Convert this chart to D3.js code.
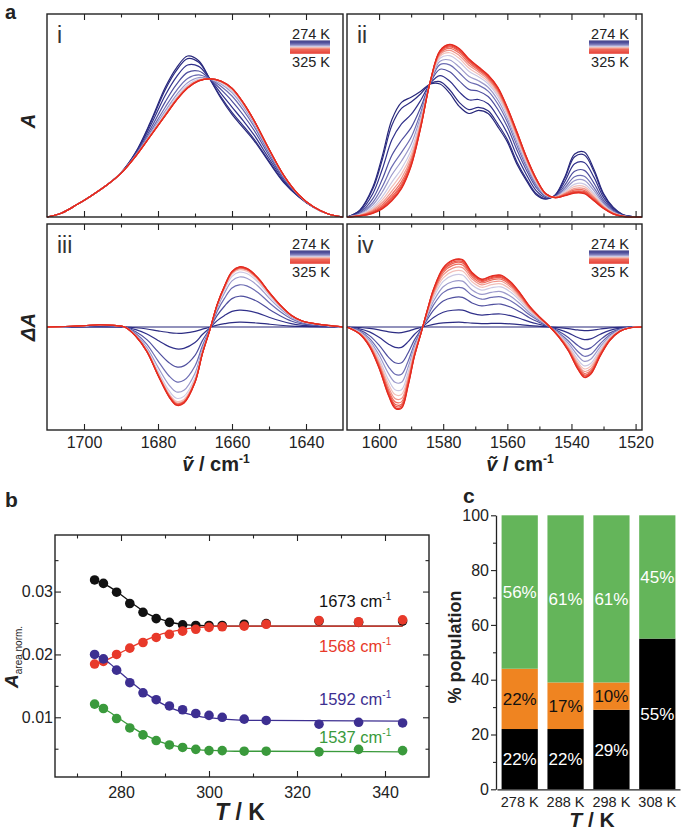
<!DOCTYPE html>
<html><head><meta charset="utf-8">
<script src="https://cdn.jsdelivr.net/npm/d3@7"></script>
<style>body{margin:0;background:#fff}svg{display:block}</style>
</head><body><svg id="chart" width="685" height="831"></svg>
<script>
// ---------------- DATA ----------------
const temps = [274,276,279,282,285,288,291,294,297,300,303,308,313,325];
const wAmideI  = [0,0.08,0.28,0.51,0.70,0.83,0.91,0.95,0.97,0.98,0.985,0.99,0.995,1.0];
const wAmideII = [0,0.07,0.25,0.44,0.58,0.68,0.77,0.83,0.88,0.92,0.95,0.97,0.99,1.0];

// panel i: absorbance at 274 K and 325 K
const nuI      = [1710,1706,1702,1698,1694,1690,1686,1682,1678,1675,1672,1669,1666,1663,1660,1657,1654,1650,1646,1642,1638,1634,1630];
const absI_274 = [0,0.02,0.06,0.105,0.155,0.218,0.32,0.47,0.64,0.735,0.793,0.77,0.68,0.585,0.505,0.44,0.375,0.27,0.17,0.10,0.048,0.015,0];
const absI_325 = [0,0.02,0.06,0.105,0.155,0.215,0.30,0.40,0.50,0.575,0.635,0.67,0.68,0.67,0.635,0.565,0.475,0.335,0.205,0.11,0.05,0.015,0];

// panel ii
const nuII      = [1610,1606,1602,1599,1596,1593,1590,1587,1584,1581,1578,1575,1572,1569,1566,1563,1560,1557,1554,1551,1548,1545,1542,1539,1536,1533,1530,1527,1524,1521,1518];
const absII_274 = [0,0.034,0.145,0.30,0.48,0.565,0.59,0.62,0.655,0.655,0.61,0.545,0.51,0.525,0.51,0.445,0.37,0.26,0.178,0.11,0.088,0.11,0.20,0.31,0.32,0.235,0.115,0.048,0.012,0.002,0];
const absII_325 = [0,0.005,0.018,0.04,0.08,0.14,0.25,0.44,0.67,0.82,0.85,0.83,0.78,0.74,0.70,0.64,0.54,0.42,0.295,0.19,0.115,0.095,0.105,0.118,0.115,0.08,0.042,0.015,0.003,0,0];

// panel iii: difference spectrum 325 K − 274 K
const nuIII   = [1710,1705,1700,1696,1692,1689,1686,1683,1680,1677,1675,1673,1670,1668,1666,1664,1662,1660,1658,1656,1653,1650,1647,1644,1641,1638,1634,1630];
const dAIII   = [0,0.005,0.013,0.022,0.016,0,-0.09,-0.24,-0.47,-0.68,-0.76,-0.74,-0.54,-0.26,-0.03,0.22,0.40,0.54,0.585,0.57,0.48,0.34,0.215,0.115,0.058,0.035,0.015,0];

// panel iv
const nuIV  = [1610,1606,1603,1600,1597,1595,1593,1591,1589,1587,1585,1583,1580,1577,1574,1571,1568,1565,1562,1559,1556,1553,1550,1547,1544,1541,1538,1536,1534,1531,1528,1525,1522,1518];
const dAIV  = [0,-0.07,-0.19,-0.40,-0.67,-0.79,-0.79,-0.58,-0.29,-0.07,0.16,0.37,0.575,0.65,0.655,0.53,0.465,0.495,0.505,0.44,0.33,0.20,0.10,0.01,-0.095,-0.23,-0.41,-0.49,-0.46,-0.28,-0.13,-0.045,-0.01,0];

const ticksI_major = [1700,1680,1660,1640];
const ticksI_minor = [1690,1670,1650];
const ticksII_major = [1600,1580,1560,1540,1520];
const ticksII_minor = [1590,1570,1550,1530];

// panel b
const tempsB = [274,276,279,282,285,288,291,294,297,300,303,308,313,325,334,344];
const b1673 = [0.03185,0.0313,0.0299,0.0281,0.0267,0.0257,0.0251,0.0247,0.0246,0.0246,0.0246,0.0248,0.0249,0.0253,0.0251,0.0253];
const b1568 = [0.01847,0.0189,0.0200,0.0210,0.0219,0.0227,0.0232,0.0237,0.0240,0.0243,0.0244,0.0245,0.0248,0.0254,0.0252,0.0255];
const b1592 = [0.0200,0.0193,0.0175,0.0155,0.0139,0.0128,0.0118,0.0112,0.0106,0.0103,0.0100,0.0097,0.0095,0.0089,0.0092,0.0091];
const b1537 = [0.0121,0.0114,0.0098,0.0083,0.0072,0.0063,0.0056,0.0052,0.0049,0.0047,0.0047,0.0046,0.0046,0.0045,0.0049,0.0047];
const fitT    = [274,277,280,283,286,289,292,295,298,302,306,312,344];
const fit1673 = [0.0318,0.0309,0.0295,0.0279,0.0265,0.0256,0.0250,0.0247,0.0246,0.0245,0.0245,0.0245,0.0245];
const fit1568 = [0.0183,0.0192,0.0203,0.0214,0.0224,0.0232,0.0237,0.0241,0.0243,0.0245,0.0245,0.0245,0.0245];
const fit1592 = [0.0200,0.0188,0.0170,0.0152,0.0136,0.0123,0.0113,0.0106,0.0101,0.0098,0.0096,0.0095,0.0094];
const fit1537 = [0.0121,0.0110,0.0096,0.0082,0.0070,0.0061,0.0055,0.0051,0.0048,0.0047,0.0046,0.0046,0.0045];
const bandLabels = ["1673","1568","1592","1537"];
const ticksB_x = [280,300,320,340], ticksB_xMinor = [270,290,310,330];
const ticksB_y = [0.01,0.02,0.03], ticksB_yMinor = [0.005,0.015,0.025,0.035];

// panel c
const popCats   = ["278 K","288 K","298 K","308 K"];
const popBlack  = [22,22,29,55];
const popOrange = [22,17,10,0];
const popGreen  = [56,61,61,45];
const ticksC = [0,20,40,60,80,100], ticksCMinor = [10,30,50,70,90];

// ---------------- DRAWING ----------------
const FONT = '"Liberation Sans", Arial, Helvetica, sans-serif';
const INK = "#222";
const svg = d3.select("#chart");

const colorOf = d3.scaleLinear().domain([0,2,4,6,7,9,13])
  .range(["#27277a","#30308a","#6c6cb2","#cbc8e3","#f2bfb9","#ee6c5d","#e42a1f"]);

function styleAxis(a, fs) {
  a.select(".domain").remove();
  a.selectAll("line").attr("stroke", INK).attr("stroke-width", 1.1);
  a.selectAll("text").attr("font-family", FONT).attr("font-size", fs || 16).attr("fill", INK);
}

function frameBox(x, y) {
  const [x0,x1] = x.range(), [yb,yt] = y.range();
  svg.append("rect").attr("x",x0).attr("y",yt).attr("width",x1-x0).attr("height",yb-yt)
    .attr("fill","none").attr("stroke",INK).attr("stroke-width",1.4);
}

function hTicks(x, ty, which, vals, size, labels, pad) {
  const fn = which === "top" ? d3.axisTop : d3.axisBottom;
  const a = svg.append("g").attr("transform",`translate(0,${ty})`)
    .call(fn(x).tickValues(vals).tickSize(size).tickSizeOuter(0).tickPadding(pad || 6.6)
      .tickFormat(labels ? labels : () => ""));
  styleAxis(a);
  return a;
}
function vTicks(y, tx, which, vals, size, labels, pad, fs) {
  const fn = which === "left" ? d3.axisLeft : d3.axisRight;
  const a = svg.append("g").attr("transform",`translate(${tx},0)`)
    .call(fn(y).tickValues(vals).tickSize(size).tickSizeOuter(0).tickPadding(pad || 3)
      .tickFormat(labels ? labels : () => ""));
  styleAxis(a, fs);
  return a;
}

const xI  = d3.scaleLinear().domain([1710,1630]).range([47,343]);
const xII = d3.scaleLinear().domain([1610,1518]).range([347,642]);
const yTop = d3.scaleLinear().domain([0,1]).range([217,14]);
const yBot = d3.scaleLinear().domain([-1,1]).range([430,224]);

function spectraPanel(x, y, nu, curveVals, roman, majors, minors, withLabels) {
  const line = d3.line().x(d => x(d[0])).y(d => y(d[1])).curve(d3.curveCatmullRom.alpha(0.5));
  temps.forEach((t,k) => {
    const vals = curveVals(k);
    svg.append("path").datum(nu.map((n,i) => [n, vals[i]]))
      .attr("d", line).attr("fill","none").attr("stroke", colorOf(k)).attr("stroke-width",1.2);
  });
  frameBox(x, y);
  const [x0,x1] = x.range(), [yb,yt] = y.range();
  hTicks(x, yt, "top", majors, -6);
  hTicks(x, yt, "top", minors, -3.5);
  hTicks(x, yb, "bottom", majors, -6, withLabels ? d3.format("d") : null);
  hTicks(x, yb, "bottom", minors, -3.5);
  svg.append("text").attr("x", x0+10).attr("y", yt+29).text(roman)
    .attr("font-family",FONT).attr("font-size",23).attr("fill","#333");
  // legend
  const xr = x1 - 13;
  svg.append("text").attr("x",xr).attr("y",yt+24.5).attr("text-anchor","end").text("274 K")
    .attr("font-family",FONT).attr("font-size",14.5).attr("fill",INK);
  const hh = 13 / temps.length;
  temps.forEach((t,k) => {
    svg.append("rect").attr("x",xr-40).attr("width",40).attr("y",yt+26.5+k*hh).attr("height",hh+0.2)
      .attr("fill",colorOf(k));
  });
  svg.append("text").attr("x",xr).attr("y",yt+52.5).attr("text-anchor","end").text("325 K")
    .attr("font-family",FONT).attr("font-size",14.5).attr("fill",INK);
}

spectraPanel(xI, yTop, nuI, k => absI_274.map((v,i) => v + wAmideI[k]*(absI_325[i]-v)), "i", ticksI_major, ticksI_minor, false);
spectraPanel(xII, yTop, nuII, k => absII_274.map((v,i) => v + wAmideII[k]*(absII_325[i]-v)), "ii", ticksII_major, ticksII_minor, false);
spectraPanel(xI, yBot, nuIII, k => dAIII.map(v => wAmideI[k]*v), "iii", ticksI_major, ticksI_minor, true);
spectraPanel(xII, yBot, nuIV, k => dAIV.map(v => wAmideII[k]*v), "iv", ticksII_major, ticksII_minor, true);

// axis titles panel a
function rotText(x, y, parts) {
  const t = svg.append("text").attr("transform",`translate(${x},${y}) rotate(-90)`)
    .attr("text-anchor","middle").attr("font-family",FONT).attr("fill",INK);
  parts.forEach(p => {
    const s = t.append("tspan").text(p.t).attr("font-size",p.fs).attr("font-weight",p.fw||"bold")
      .attr("font-style",p.fi||"normal");
    if (p.dy) s.attr("dy",p.dy);
  });
  return t;
}
rotText(35, 121, [{t:"A",fs:20,fi:"italic"}]);
rotText(35, 327, [{t:"ΔA",fs:20,fi:"italic"}]);

function wnTitle(cx) {
  const t = svg.append("text").attr("x",cx).attr("y",471).attr("text-anchor","middle")
    .attr("font-family",FONT).attr("fill",INK).attr("font-weight","bold").attr("font-size",20);
  t.append("tspan").text("v\u0303").attr("font-style","italic");
  t.append("tspan").text(" / cm");
  t.append("tspan").text("-1").attr("font-size",12).attr("dy",-8);
}
wnTitle(216);
wnTitle(520);

// panel labels
[["a",5,19,20],["b",5,507,21],["c",463,503,21]].forEach(([s,x,y,fs]) =>
  svg.append("text").attr("x",x).attr("y",y).text(s).attr("font-family",FONT)
    .attr("font-weight","bold").attr("font-size",fs).attr("fill",INK));

// ---------------- panel b ----------------
const xB = d3.scaleLinear().domain([265,350]).range([55,429]);
const yB = d3.scaleLinear().domain([0.0005,0.039]).range([777,535]);
const seriesB = [
  {vals:b1673, fit:fit1673, color:"#111111", label:bandLabels[0], ly:606.5},
  {vals:b1568, fit:fit1568, color:"#e8392a", label:bandLabels[1], ly:651.5},
  {vals:b1592, fit:fit1592, color:"#3d2f91", label:bandLabels[2], ly:705},
  {vals:b1537, fit:fit1537, color:"#3a9a3c", label:bandLabels[3], ly:742.5}
];
const fitLine = d3.line().x(d => xB(d[0])).y(d => yB(d[1])).curve(d3.curveMonotoneX);
seriesB.forEach(s => {
  svg.append("path").datum(fitT.map((t,i) => [t, s.fit[i]])).attr("d", fitLine)
    .attr("fill","none").attr("stroke", s.color).attr("stroke-width",1.3);
  svg.append("g").selectAll("circle").data(tempsB.map((t,i) => [t, s.vals[i]])).join("circle")
    .attr("cx", d => xB(d[0])).attr("cy", d => yB(d[1])).attr("r",4.8).attr("fill", s.color);
  const t = svg.append("text").attr("x",319).attr("y",s.ly).attr("font-family",FONT)
    .attr("font-size",16.5).attr("fill",s.color);
  t.append("tspan").text(s.label + " cm");
  t.append("tspan").text("-1").attr("font-size",10).attr("dy",-7);
});
frameBox(xB, yB);
hTicks(xB, 777, "bottom", ticksB_x, -6, d3.format("d"), 9.6);
hTicks(xB, 777, "bottom", ticksB_xMinor, -3.5);
hTicks(xB, 535, "top", ticksB_x, -6);
hTicks(xB, 535, "top", ticksB_xMinor, -3.5);
vTicks(yB, 55, "left", ticksB_y, -6, d3.format(".2f"), 2);
vTicks(yB, 55, "left", ticksB_yMinor, -3.5);
vTicks(yB, 429, "right", ticksB_y, -6);
vTicks(yB, 429, "right", ticksB_yMinor, -3.5);
{
  const t = svg.append("text").attr("transform","translate(18,688) rotate(-90)")
    .attr("font-family",FONT).attr("fill",INK);
  t.append("tspan").text("A").attr("font-size",19).attr("font-weight","bold").attr("font-style","italic");
  t.append("tspan").text("area norm.").attr("font-size",10).attr("dy",4);
}
function tkTitle(cx, y, fs) {
  const t = svg.append("text").attr("x",cx).attr("y",y).attr("text-anchor","middle")
    .attr("font-family",FONT).attr("fill",INK).attr("font-weight","bold").attr("font-size",fs);
  t.append("tspan").text("T").attr("font-style","italic");
  t.append("tspan").text(" / K");
}
tkTitle(240, 820, 23);

// ---------------- panel c ----------------
const xC = d3.scaleBand().domain(popCats).range([497,680]).paddingInner(0.21).paddingOuter(0.1);
const yC = d3.scaleLinear().domain([0,100]).range([789.3,515.3]);
const stackKeys = ["black","orange","green"];
const stackRows = popCats.map((c,i) => ({cat:c, black:popBlack[i], orange:popOrange[i], green:popGreen[i]}));
const stacked = d3.stack().keys(stackKeys)(stackRows);
const fillC = {black:"#000000", orange:"#ef8421", green:"#64b55a"};
const textC = {black:"#ffffff", orange:"#111111", green:"#ffffff"};
stacked.forEach(layer => {
  const g = svg.append("g");
  g.selectAll("rect").data(layer).join("rect")
    .attr("x", d => xC(d.data.cat)).attr("width", xC.bandwidth())
    .attr("y", d => yC(d[1])).attr("height", d => yC(d[0]) - yC(d[1]))
    .attr("fill", fillC[layer.key]);
  g.selectAll("text").data(layer.filter(d => d[1]-d[0] > 0)).join("text")
    .attr("x", d => xC(d.data.cat) + xC.bandwidth()/2)
    .attr("y", d => (yC(d[0]) + yC(d[1]))/2 + 6)
    .attr("text-anchor","middle").attr("font-family",FONT).attr("font-size",17)
    .attr("fill", textC[layer.key]).text(d => (d[1]-d[0]) + "%");
});
{
  const a = svg.append("g").attr("transform","translate(496,0)")
    .call(d3.axisLeft(yC).tickValues(ticksC).tickSize(5).tickSizeOuter(0).tickPadding(2));
  a.select(".domain").attr("stroke",INK).attr("stroke-width",1.3);
  a.selectAll("line").attr("stroke",INK).attr("stroke-width",1.1);
  a.selectAll("text").attr("font-family",FONT).attr("font-size",16).attr("fill",INK);
  vTicks(yC, 496, "left", ticksCMinor, 3);
  const b = svg.append("g").attr("transform","translate(0,789.3)")
    .call(d3.axisBottom(xC).tickSize(0).tickPadding(7.5).tickSizeOuter(0));
  b.select(".domain").attr("stroke",INK).attr("stroke-width",1.3);
  b.selectAll("text").attr("font-family",FONT).attr("font-size",14.5).attr("fill",INK);
}
svg.append("text").attr("transform","translate(461,647) rotate(-90)").attr("text-anchor","middle")
  .attr("font-family",FONT).attr("font-weight","bold").attr("font-size",18).attr("fill",INK)
  .text("% population");
tkTitle(592, 827, 21);
</script></body></html>
